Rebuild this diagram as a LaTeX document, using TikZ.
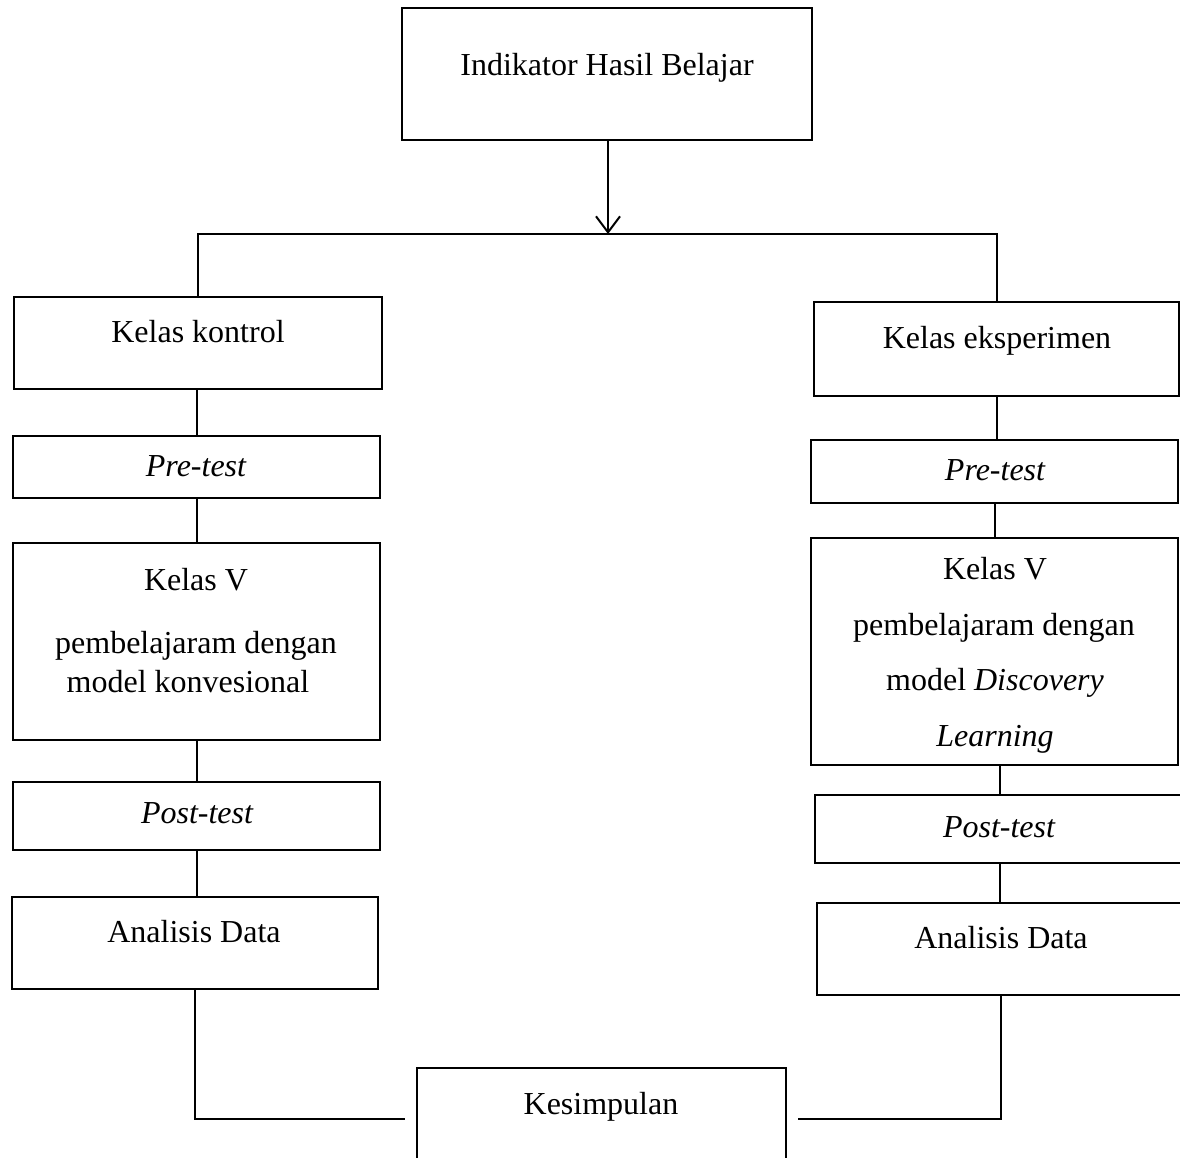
\documentclass[tikz,border=0pt]{standalone}
\usepackage{fontspec}
\setmainfont{Liberation Serif}
\usetikzlibrary{arrows.meta}
\begin{document}
\begin{tikzpicture}[x=1pt,y=-1pt,
  box/.style={draw, line width=2.8pt, inner sep=0pt},
  txt/.style={font=\fontsize{32}{38}\selectfont, inner sep=0pt, text height=0.66em, text depth=0pt, yshift=-7.5pt},
  conn/.style={line width=2pt}]
\useasboundingbox (0,0) rectangle (1180,1158);
% boxes
\node[box, minimum width=410pt, minimum height=132pt] (top) at (607,74) {};
\node[box, minimum width=368pt, minimum height=92pt] (kk) at (198,343) {};
\node[box, minimum width=365pt, minimum height=94pt] (ke) at (996.5,349) {};
\node[box, minimum width=367pt, minimum height=62pt] (pre1) at (196.5,467) {};
\node[box, minimum width=367pt, minimum height=63pt] (pre2) at (994.5,471.5) {};
\node[box, minimum width=367pt, minimum height=197pt] (kv1) at (196.5,641.5) {};
\node[box, minimum width=367pt, minimum height=227pt] (kv2) at (994.5,651.5) {};
\node[box, minimum width=367pt, minimum height=68pt] (post1) at (196.5,816) {};
\node[box, minimum width=370pt, minimum height=68pt] (post2) at (1000,829) {};
\node[box, minimum width=366pt, minimum height=92pt] (ad1) at (195,943) {};
\node[box, minimum width=368pt, minimum height=92pt] (ad2) at (1001,949) {};
\node[box, minimum width=369pt, minimum height=102pt] (ks) at (601.5,1119) {};
% texts
\node[txt] (ttop) at (607,65) {Indikator Hasil Belajar};
\node[txt] (tkk) at (198,332) {Kelas kontrol};
\node[txt] (tke) at (997,338) {Kelas eksperimen};
\node[txt] (tpre1) at (196,466) {\itshape Pre-test};
\node[txt] (tpre2) at (995,470) {\itshape Pre-test};
\node[txt] (tkv1a) at (196,580) {Kelas V};
\node[txt] (tkv1b) at (196,643) {pembelajaram dengan};
\node[txt] (tkv1c) at (188,682) {model konvesional};
\node[txt] (tkv2a) at (995,569) {Kelas V};
\node[txt] (tkv2b) at (994,625) {pembelajaram dengan};
\node[txt] (tkv2c) at (995,680) {model \textit{Discovery}};
\node[txt] (tkv2d) at (995,736) {\itshape Learning};
\node[txt] (tpost1) at (197,813) {\itshape Post-test};
\node[txt] (tpost2) at (999,827) {\itshape Post-test};
\node[txt] (tad1) at (194,932) {Analisis Data};
\node[txt] (tad2) at (1001,938) {Analisis Data};
\node[txt] (tks) at (601,1104) {Kesimpulan};
% connectors
\coordinate (split) at (608,234);
\draw[conn, -{Straight Barb[length=16pt,width=24pt,line width=2pt]}] (top.south -| split) -- (split);
\draw[conn] (kk.north) |- (split) -| (ke.north);
\draw[conn] (pre1.north |- kk.south) -- (pre1.north);
\draw[conn] (pre1.south) -- (kv1.north);
\draw[conn] (kv1.south) -- (post1.north);
\draw[conn] (post1.south) -- (post1.south |- ad1.north);
\draw[conn] (ke.south) -- (ke.south |- pre2.north);
\draw[conn] (pre2.south) -- (kv2.north);
\draw[conn] (post2.north |- kv2.south) -- (post2.north);
\draw[conn] (post2.south) -- (post2.south |- ad2.north);
\draw[conn, shorten >=11pt] (ad1.south) |- (ks.west);
\draw[conn, shorten >=11pt] (ad2.south) |- (ks.east);
\end{tikzpicture}
\end{document}
